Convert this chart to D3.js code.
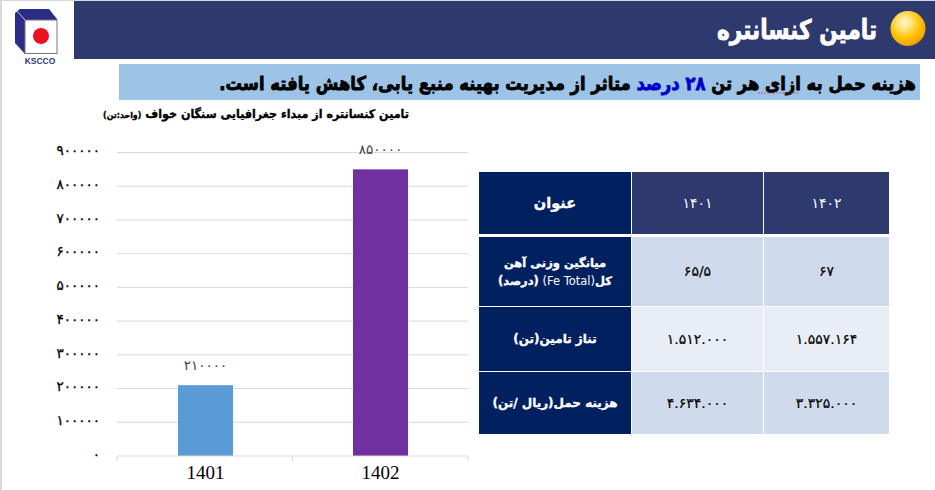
<!DOCTYPE html>
<html><head><meta charset="utf-8">
<script src="https://cdn.jsdelivr.net/npm/d3@7"></script>
<style>html,body{margin:0;padding:0;background:#fff}svg{display:block}text{font-family:"DejaVu Sans",sans-serif}</style>
</head><body><svg id="c" width="935" height="490"></svg>
<script>
const categories=["1401","1402"];
const values=[210000,850000];
const barColors=["#5B9BD5","#7030A0"];
const yTicks=[0,100000,200000,300000,400000,500000,600000,700000,800000,900000];
const tableHeader=["عنوان","۱۴۰۱","۱۴۰۲"];
const rowLabels=[[[["میانگین وزنی آهن",700]],[["کل",700],["(Fe Total) ",400],["(درصد)",700]]],[[["تناژ تامین(تن)",700]]],[[["هزینه حمل(ریال /تن)",700]]]];
const col1401=["۶۵/۵","۱.۵۱۲.۰۰۰","۴.۶۳۴.۰۰۰"];
const col1402=["۶۷","۱.۵۵۷.۱۶۴","۳.۳۲۵.۰۰۰"];
const titleText="تامین کنسانتره";
const chartTitle="تامین کنسانتره از مبداء جغرافیایی سنگان خواف";
const chartUnit="(واحد:تن)";
const headline=[["هزینه حمل به ازای هر تن ","#000"],["۲۸ درصد","#0000C8"],[" متاثر از مدیریت بهینه منبع یابی، کاهش یافته است.","#000"]];

const fa=n=>String(n).replace(/\d/g,d=>"۰۱۲۳۴۵۶۷۸۹"[d]);
const svg=d3.select("#c");
const defs=svg.append("defs");
const g=defs.append("radialGradient").attr("id","orb").attr("cx","0.4").attr("cy","0.33").attr("r","0.72");
[[0,"#FFF6D8"],[0.25,"#FFE680"],[0.62,"#FFC000"],[0.88,"#F5A800"],[1,"#C07A20"]].forEach(s=>g.append("stop").attr("offset",s[0]).attr("stop-color",s[1]));

// page frame and banners
svg.append("rect").attr("x",0).attr("y",0).attr("width",2).attr("height",490).attr("fill","#D9D9D9");
svg.append("rect").attr("x",0).attr("y",0).attr("width",935).attr("height",1).attr("fill","#D9D9D9");
svg.append("rect").attr("x",74).attr("y",1).attr("width",861).attr("height",58).attr("fill","#2E3A6E");
svg.append("rect").attr("x",119).attr("y",64).attr("width",801).attr("height",36).attr("fill","#9DC3E6");

// logo
const logo=svg.append("g");
logo.append("path").attr("d","M15 13 L20 9 L49 9 L57 19 L57 54 L25 54 L15 43 Z").attr("fill","#2B2C86");
logo.append("rect").attr("x",25).attr("y",20).attr("width",32).attr("height",33.5).attr("fill","#fff").attr("stroke","#77777f").attr("stroke-width",1);
logo.append("path").attr("d","M16 10 L25 20").attr("stroke","#c9c9e0").attr("stroke-width",1);
logo.append("circle").attr("cx",41).attr("cy",36).attr("r",8).attr("fill","#EE1122");
logo.append("text").attr("x",40).attr("y",63.5).attr("text-anchor","middle").attr("font-size",8.5).attr("font-weight",700).attr("fill","#2B3A6E").style("font-family","Liberation Sans").text("KSCCO");

// title
svg.append("circle").attr("cx",908).attr("cy",28.5).attr("r",17.5).attr("fill","url(#orb)");
svg.append("text").attr("transform","translate(877,39) scale(0.8,1)").attr("direction","rtl").attr("font-size",27).attr("font-weight",700).attr("fill","#fff").attr("stroke","#fff").attr("stroke-width",0.8).text(titleText);

// headline
const hl=svg.append("text").attr("transform","translate(916,90) scale(0.864,1)").attr("direction","rtl").attr("font-size",19).attr("font-weight",700);
headline.forEach(p=>hl.append("tspan").attr("fill",p[1]).attr("stroke",p[1]).attr("stroke-width",0.8).text(p[0]));
svg.append("path").attr("d","M758 93 H798").attr("stroke","#C8403C").attr("stroke-width",1).attr("stroke-dasharray","2 1").attr("opacity",0.75);

// chart title
const ct=svg.append("text").attr("transform","translate(409,118) scale(0.93,1)").attr("direction","rtl").attr("font-size",12).attr("font-weight",700).attr("fill","#000").attr("stroke","#000").attr("stroke-width",0.35);
ct.append("tspan").text(chartTitle+" ");
ct.append("tspan").attr("font-size",8.5).text(chartUnit);

// chart
const x=d3.scaleBand().domain(categories).range([118,468]);
const y=d3.scaleLinear().domain([0,900000]).range([456,152.5]);
const bw=55;
svg.append("g").selectAll("line").data(yTicks.filter(d=>d>0)).join("line")
 .attr("x1",117).attr("x2",468).attr("y1",d=>y(d)).attr("y2",d=>y(d)).attr("stroke","#D9D9D9").attr("stroke-width",1);
const ya=svg.append("g").attr("transform","translate(100,-2)").call(d3.axisLeft(y).tickValues(yTicks).tickSize(0).tickPadding(0).tickFormat(fa));
ya.select(".domain").remove();
ya.selectAll("text").attr("font-size",13.5).attr("letter-spacing","-1px").attr("fill","#000").attr("stroke","#000").attr("stroke-width",0.3).style("font-family","DejaVu Sans").attr("dy","0.32em");
svg.append("g").selectAll("rect").data(values).join("rect")
 .attr("x",(d,i)=>x(categories[i])+x.bandwidth()/2-bw/2).attr("width",bw)
 .attr("y",d=>y(d)).attr("height",d=>y(0)-y(d)).attr("fill",(d,i)=>barColors[i]);
svg.append("g").selectAll("text").data(values).join("text")
 .attr("x",(d,i)=>x(categories[i])+x.bandwidth()/2).attr("y",d=>y(d)-20).attr("dy","0.32em")
 .attr("text-anchor","middle").attr("font-size",13.5).attr("letter-spacing","-1px").attr("fill","#404040").text(fa);
const xa=svg.append("g").attr("transform","translate(0,456)").call(d3.axisBottom(x).tickSize(0).tickPadding(10));
xa.select(".domain").attr("d","M117,0H468").attr("stroke","#D9D9D9");
xa.selectAll("text").attr("font-size",19).attr("fill","#000").style("font-family","Liberation Serif");
svg.append("g").selectAll("line").data([117,292.5,468]).join("line").attr("x1",d=>d).attr("x2",d=>d).attr("y1",456).attr("y2",461).attr("stroke","#D9D9D9");

// table
const colX=[479,632,764], colW=[152,131,125];
const rowY=[172,237,307,372], rowH=[62,69,64,62];
const rowFill=["#CFDAEC","#E8EDF6","#CFDAEC"];
const t=svg.append("g");
const cell=(xi,yi,fill)=>t.append("rect").attr("x",colX[xi]).attr("y",rowY[yi]).attr("width",colW[xi]).attr("height",rowH[yi]).attr("fill",fill);
const txt=(xi,yi,size,color,bold,dy)=>t.append("text").attr("x",colX[xi]+colW[xi]/2).attr("y",rowY[yi]+rowH[yi]/2+(dy||0)).attr("dy","0.35em").attr("text-anchor","middle").attr("direction","rtl").attr("font-size",size).attr("fill",color);
tableHeader.forEach((h,i)=>{cell(i,0,i?"#2E3A6E":"#002060");txt(i,0,i?14:14.5,"#fff").attr("font-weight",i?400:700).attr("stroke",i?"none":"#fff").attr("stroke-width",0.4).text(h);});
rowLabels.forEach((lines,r)=>{
 cell(0,r+1,"#002060");
 lines.forEach((parts,k)=>{
  const e=txt(0,r+1,lines.length>1?11.5:12,"#fff",true,lines.length>1?(k-0.5)*18:0);
  parts.forEach(p=>e.append("tspan").attr("font-weight",p[1]).attr("stroke",p[1]===700?"#fff":"none").attr("stroke-width",0.35).text(p[0]));
 });
 cell(1,r+1,rowFill[r]);cell(2,r+1,rowFill[r]);
 txt(1,r+1,14,"#000").attr("stroke","#000").attr("stroke-width",0.2).text(col1401[r]);
 txt(2,r+1,14,"#000").attr("stroke","#000").attr("stroke-width",0.2).text(col1402[r]);
});
</script></body></html>
